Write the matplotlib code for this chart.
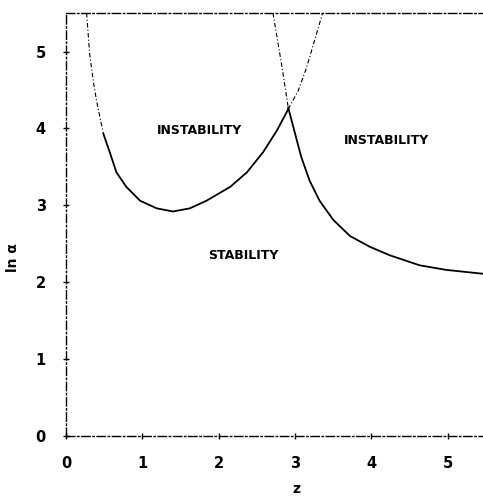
import matplotlib
matplotlib.use("Agg")
import matplotlib.pyplot as plt

# stability boundary curves (z, ln alpha)
z_left = [0.27, 0.31, 0.36, 0.40, 0.49, 0.58, 0.66, 0.79, 0.97, 1.19, 1.40, 1.62, 1.84,
          2.15, 2.37, 2.58, 2.76, 2.91, 3.04, 3.15, 3.36]
a_left = [5.50, 4.97, 4.60, 4.36, 3.93, 3.67, 3.43, 3.24, 3.06, 2.96, 2.92, 2.96, 3.06,
          3.24, 3.43, 3.69, 3.97, 4.25, 4.49, 4.79, 5.50]

z_right = [2.71, 2.83, 2.91, 3.00, 3.08, 3.19, 3.32, 3.50, 3.72, 3.98, 4.24, 4.63, 4.98, 5.46]
a_right = [5.50, 4.79, 4.27, 3.93, 3.63, 3.32, 3.06, 2.81, 2.60, 2.46, 2.35, 2.22, 2.16, 2.11]

ticks = [0, 1, 2, 3, 4, 5]
labels = ["INSTABILITY", "INSTABILITY", "STABILITY"]
label_z = [1.75, 4.19, 2.32]
label_a = [3.97, 3.84, 2.35]

fig = plt.figure(figsize=(4.83, 4.97), dpi=100)
ax = fig.add_axes([0.1366, 0.1227, 0.8634, 0.851])

dd = (0, (4, 2, 1, 2))
# faint dash-dot continuations above, solid boundaries below
ax.plot(z_left[:5], a_left[:5], color="black", lw=0.8, ls=dd)
ax.plot(z_left[4:18], a_left[4:18], color="black", lw=1.3)
ax.plot(z_left[17:], a_left[17:], color="black", lw=0.8, ls=dd)
ax.plot(z_right[:3], a_right[:3], color="black", lw=0.8, ls=dd)
ax.plot(z_right[2:], a_right[2:], color="black", lw=1.3)

for t, x, y in zip(labels, label_z, label_a):
    ax.text(x, y, t, ha="center", va="center", fontsize=9, fontweight="bold")

ax.set_xlim(0, 5.46)
ax.set_ylim(0, 5.5)
ax.set_xticks(ticks)
ax.set_yticks(ticks)
ax.tick_params(direction="inout", length=5, width=1, labelsize=10.5, pad=12)
for lab in ax.get_xticklabels() + ax.get_yticklabels():
    lab.set_fontweight("bold")

for s in ["left", "bottom", "top"]:
    ax.spines[s].set_linestyle((0, (6, 2, 1, 2)))
    ax.spines[s].set_linewidth(1.0)
ax.spines["right"].set_visible(False)

fig.text(13 / 483, 1 - 258 / 497, "ln α", rotation=90, ha="center", va="center",
         fontsize=10, fontweight="bold")
fig.text(296 / 483, 0.003, "z", ha="center", va="bottom", fontsize=10, fontweight="bold")

fig.savefig("out.png", dpi=100)
